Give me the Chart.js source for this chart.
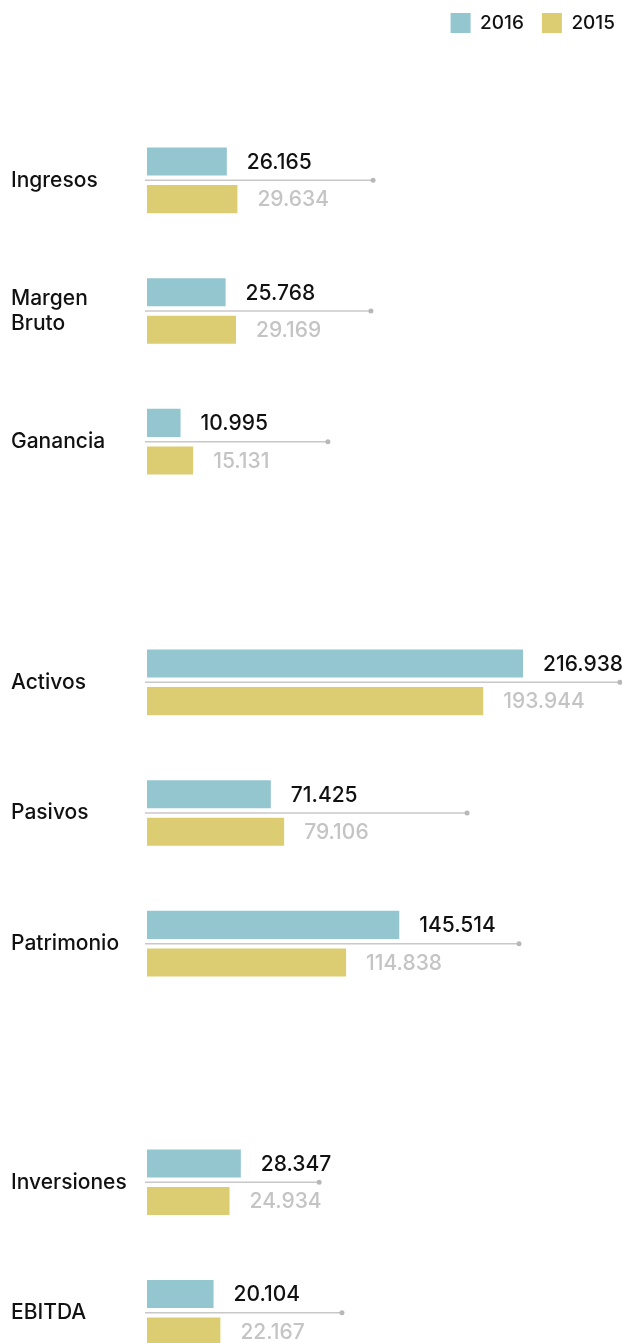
<!DOCTYPE html>
<html lang="es">
<head>
<meta charset="utf-8">
<script src="https://cdn.jsdelivr.net/npm/chart.js@4/dist/chart.umd.min.js"></script>
<style>
  html, body { margin: 0; padding: 0; background: #fff; }
  body { width: 622px; height: 1343px; position: relative; overflow: hidden; }
  canvas { position: absolute; left: 0; }
</style>
</head>
<body>
<canvas id="resultados" width="633" height="512" style="top:-5px"></canvas>
<canvas id="balance" width="622" height="392" style="top:617px"></canvas>
<canvas id="inversion" width="622" height="261" style="top:1117px"></canvas>
<script>
// Series labels
const years = ['2016', '2015'];

// Resultados
const resultadosCats = ['Ingresos', ['Margen', 'Bruto'], 'Ganancia'];
const resultados2016 = [26165, 25768, 10995];
const resultados2015 = [29634, 29169, 15131];
const resultadosGuide = [74100, 73400, 59300];

// Balance
const balanceCats = ['Activos', 'Pasivos', 'Patrimonio'];
const balance2016 = [216938, 71425, 145514];
const balance2015 = [193944, 79106, 114838];
const balanceGuide = [272800, 184600, 214600];

// Inversión
const inversionCats = ['Inversiones', 'EBITDA'];
const inversion2016 = [28347, 20104];
const inversion2015 = [24934, 22167];
const inversionGuide = [52000, 58900];

const FONT = 'Inter, "Noto Sans", sans-serif';
const COLOR_2016 = '#94c6d0';
const COLOR_2015 = '#dccd72';
const TEXT_2016 = '#111111';
const TEXT_2015 = '#c4c4c4';

// Thousands separator with a dot: 26165 -> "26.165"
function fmt(v) {
  return String(v).replace(/\B(?=(\d{3})+(?!\d))/g, '.');
}

// Thin guide line with a dot between the paired bars, plus value labels
const annotate = {
  id: 'annotate',
  beforeDatasetsDraw(chart, args, opts) {
    const { ctx, chartArea, scales: { x, y } } = chart;
    ctx.save();
    (opts.reach || []).forEach((v, i) => {
      const cy = y.getPixelForValue(i);
      const xe = x.getPixelForValue(v);
      ctx.strokeStyle = '#c8c8c8';
      ctx.lineWidth = 1.5;
      ctx.beginPath();
      ctx.moveTo(chartArea.left - 2, cy);
      ctx.lineTo(xe, cy);
      ctx.stroke();
      ctx.fillStyle = '#b8b8b8';
      ctx.beginPath();
      ctx.arc(xe, cy, 2.5, 0, Math.PI * 2);
      ctx.fill();
    });
    ctx.restore();
  },
  afterDatasetsDraw(chart) {
    const { ctx } = chart;
    ctx.save();
    ctx.font = '500 21px ' + FONT;
    ctx.textBaseline = 'middle';
    ctx.textAlign = 'left';
    chart.data.datasets.forEach((ds, di) => {
      chart.getDatasetMeta(di).data.forEach((bar, i) => {
        ctx.fillStyle = ds.valueColor;
        ctx.fillText(fmt(ds.data[i]), bar.x + 20, bar.y + 1);
      });
    });
    ctx.restore();
  }
};

// Reserve a fixed band for the legend above the first group
const legendSpace = {
  id: 'legendSpace',
  beforeInit(chart) {
    if (!chart.legend) return;
    const fit = chart.legend.fit;
    chart.legend.fit = function () {
      fit.call(this);
      this.height = 120;
    };
  }
};

function build(id, cats, v2016, v2015, guide, xMax, withLegend) {
  return new Chart(document.getElementById(id), {
    type: 'bar',
    data: {
      labels: cats,
      datasets: [
        { label: years[0], data: v2016, backgroundColor: COLOR_2016, borderWidth: 0, valueColor: TEXT_2016 },
        { label: years[1], data: v2015, backgroundColor: COLOR_2015, borderWidth: 0, valueColor: TEXT_2015 }
      ]
    },
    options: {
      indexAxis: 'y',
      responsive: false,
      animation: false,
      events: [],
      layout: { padding: { left: 11, right: 0, top: 0, bottom: 0 } },
      datasets: {
        bar: { categoryPercentage: 0.5747, barPercentage: 0.7467 }
      },
      scales: {
        x: { display: false, min: 0, max: xMax },
        y: {
          offset: true,
          grid: { display: false },
          border: { display: false },
          ticks: {
            crossAlign: 'far',
            padding: 0,
            color: '#111111',
            font: { family: FONT, size: 21, weight: '500', lineHeight: 1.17 }
          },
          afterFit(scale) {
            scale.width = 136;
            scale.paddingTop = 0;
            scale.paddingBottom = 0;
          }
        }
      },
      plugins: {
        tooltip: { enabled: false },
        annotate: { reach: guide },
        legend: {
          display: withLegend,
          position: 'top',
          align: 'end',
          labels: {
            boxWidth: 20,
            boxHeight: 20,
            padding: 18,
            color: '#111111',
            font: { family: FONT, size: 19, weight: '500' }
          }
        }
      }
    },
    plugins: withLegend ? [annotate, legendSpace] : [annotate]
  });
}

build('resultados', resultadosCats, resultados2016, resultados2015, resultadosGuide, 159300, true);
build('balance', balanceCats, balance2016, balance2015, balanceGuide, 274000, false);
build('inversion', inversionCats, inversion2016, inversion2015, inversionGuide, 143500, false);
</script>
</body>
</html>
